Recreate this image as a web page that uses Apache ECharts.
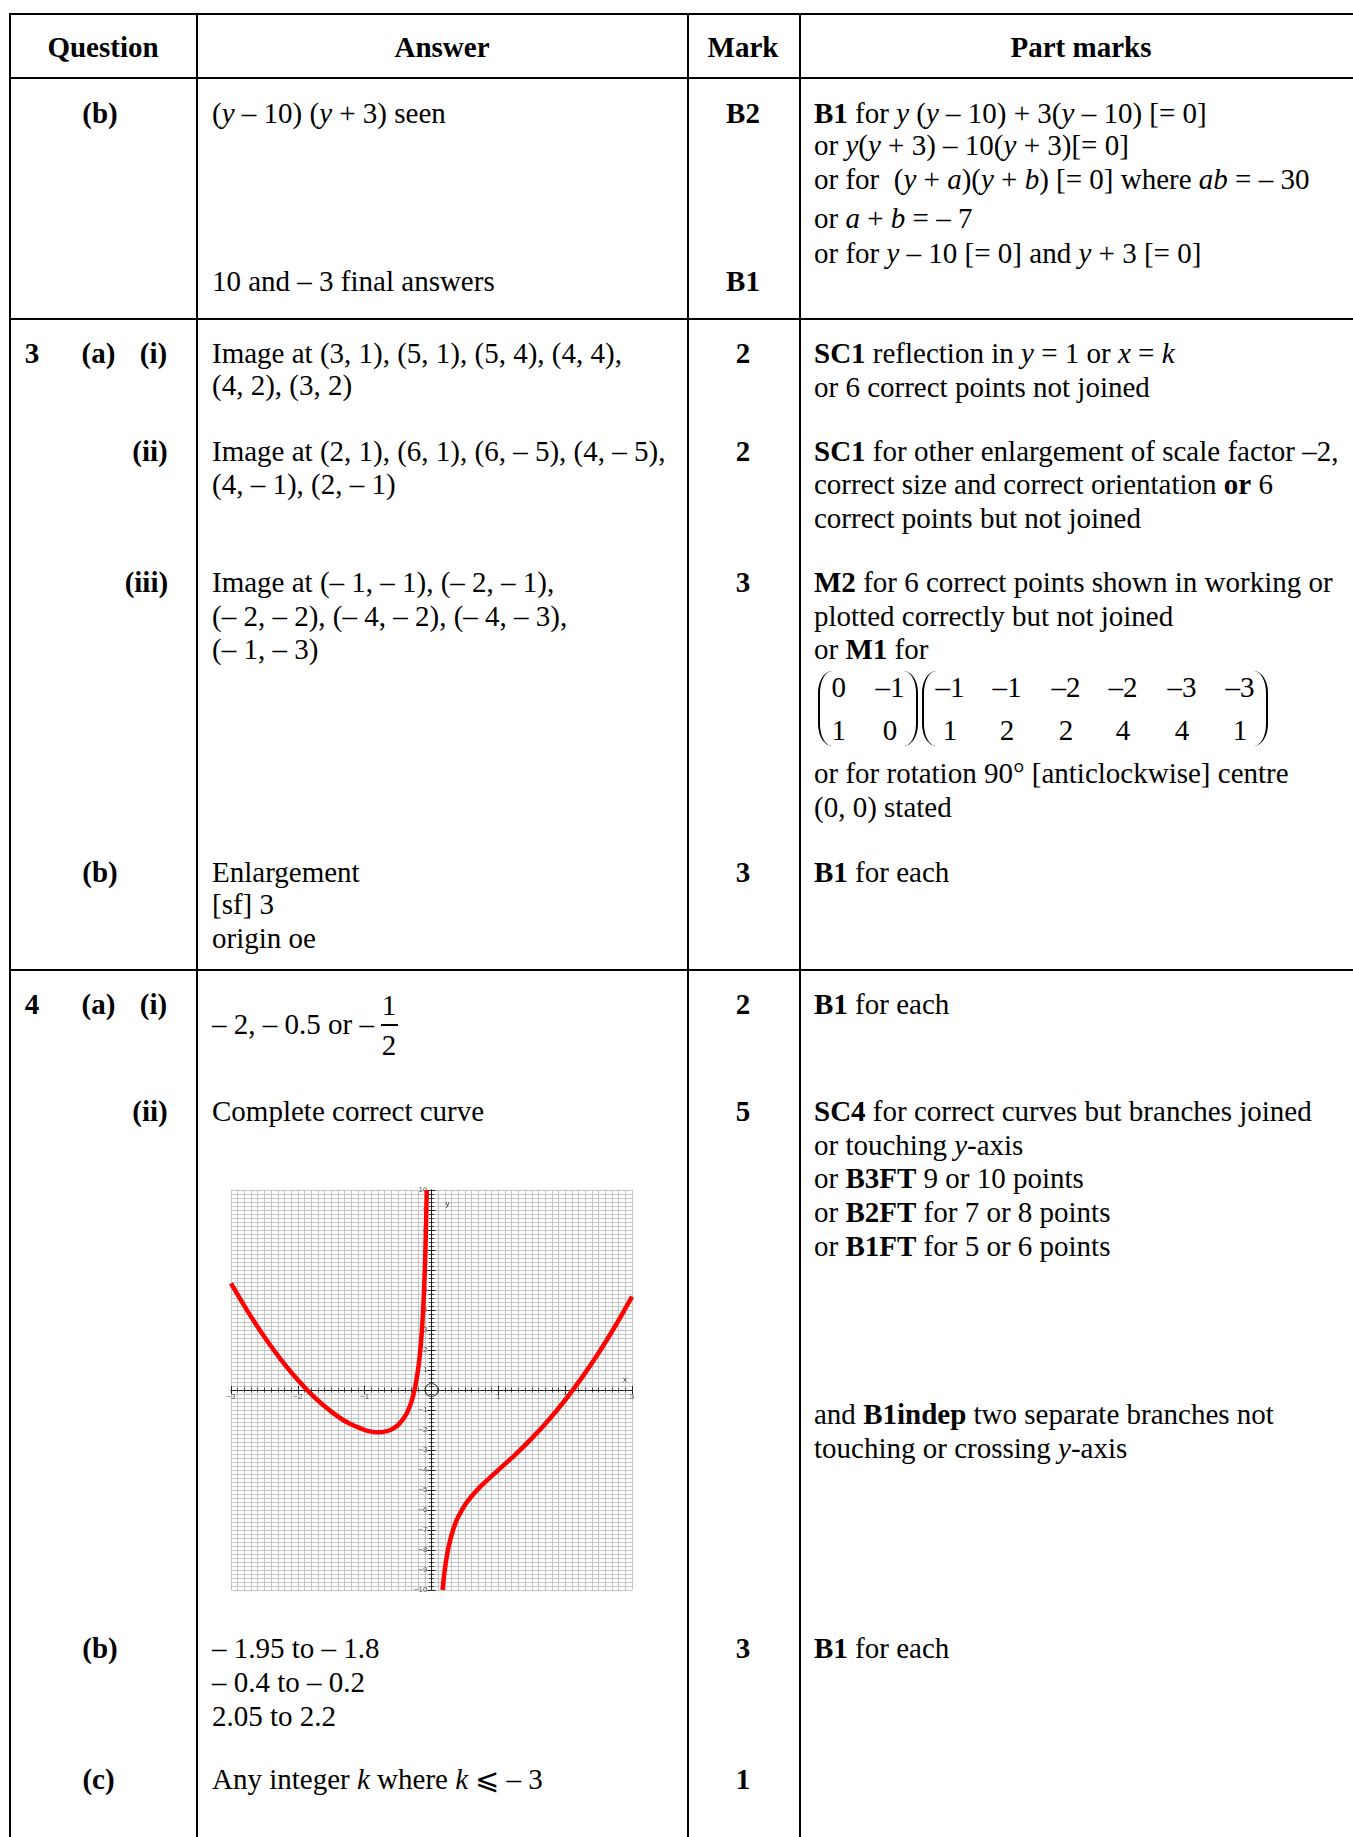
<!DOCTYPE html>
<html>

<head>
    <meta charset="UTF-8">
    <script src="https://cdn.jsdelivr.net/npm/echarts@6.0.0/dist/echarts.min.js"></script>
    <style>
        html, body { margin: 0; padding: 0; background: #fff; }
        body { position: relative; width: 1353px; height: 1837px; overflow: hidden; }
        .t { position: absolute; font-family: 'Liberation Serif', 'Times New Roman', serif; font-size: 29px;
             line-height: 34px; white-space: nowrap; color: #000; }
        .c { transform: translateX(-50%); }
        .hl { position: absolute; height: 2px; background: #000; }
        .vl { position: absolute; width: 2px; background: #000; }
        .pl { position: absolute; width: 12px; border-left: 2px solid #000; border-radius: 14px 0 0 14px / 22px 0 0 22px; }
        .pr { position: absolute; width: 12px; border-right: 2px solid #000; border-radius: 0 14px 14px 0 / 0 22px 22px 0; }
    </style>
</head>

<body>
    <div id="main" style="position: absolute; left: 205px; top: 1170px; width: 450px; height: 440px;"></div>
    <script>
        // curve, two branches either side of the y-axis
        var leftBranch = [
            [-3, 5.33], [-2.75, 3.93], [-2.5, 2.65], [-2.25, 1.51], [-2, 0.5], [-1.75, -0.37],
            [-1.5, -1.08], [-1.25, -1.64], [-1, -2], [-0.9, -2.08], [-0.8, -2.11], [-0.7, -2.08],
            [-0.6, -1.97], [-0.5, -1.75], [-0.4, -1.34], [-0.35, -1.02], [-0.3, -0.58], [-0.25, 0.06],
            [-0.2, 1.04], [-0.18, 1.59], [-0.16, 2.28], [-0.14, 3.16], [-0.12, 4.35], [-0.11, 5.1],
            [-0.1, 6.01], [-0.09, 7.12], [-0.08, 8.51], [-0.075, 9.34], [-0.0714, 10]
        ];
        var rightBranch = [
            [0.166, -10], [0.18, -9.52], [0.2, -8.96], [0.225, -8.39], [0.25, -7.94], [0.3, -7.24],
            [0.35, -6.73], [0.4, -6.34], [0.5, -5.75], [0.6, -5.31], [0.75, -4.77], [1, -4],
            [1.25, -3.24], [1.5, -2.42], [1.75, -1.51], [2, -0.5], [2.25, 0.62], [2.5, 1.85],
            [2.75, 3.2], [3, 4.67]
        ];
        var origin = [[0, 0]];
        var xRange = [-3, 3];
        var yRange = [-10, 10];
        var xTickLabels = [-3, -2, -1, 1, 2, 3];
        var yTickLabels = [-10, -9, -8, -7, -6, -5, -4, -3, -2, -1, 1, 2, 3, 4, 5, 6, 7, 8, 9, 10];

        // table text: [x, lineCentreY, html, centred]
        var B = function (s) { return '<b>' + s + '</b>'; };
        var I = function (s) { return '<i>' + s + '</i>'; };
        var texts = [
            [103, 47, B('Question'), 1], [442, 47, B('Answer'), 1], [743, 47, B('Mark'), 1], [1081, 47, B('Part marks'), 1],

            [100, 112.5, B('(b)'), 1],
            [212, 112.5, '(' + I('y') + ' – 10) (' + I('y') + ' + 3) seen'],
            [743, 112.5, B('B2'), 1],
            [814, 112.5, B('B1') + ' for ' + I('y') + ' (' + I('y') + ' – 10) + 3(' + I('y') + ' – 10) [= 0]'],
            [814, 145.3, 'or ' + I('y') + '(' + I('y') + ' + 3) – 10(' + I('y') + ' + 3)[= 0]'],
            [814, 179.2, 'or for &nbsp;(' + I('y') + ' + ' + I('a') + ')(' + I('y') + ' + ' + I('b') + ') [= 0] where ' + I('ab') + ' = – 30'],
            [814, 217.9, 'or ' + I('a') + ' + ' + I('b') + ' = – 7'],
            [814, 253, 'or for ' + I('y') + ' – 10 [= 0] and ' + I('y') + ' + 3 [= 0]'],
            [212, 281, '10 and – 3 final answers'],
            [743, 281, B('B1'), 1],

            [32, 352.6, B('3'), 1], [98.5, 352.6, B('(a)'), 1], [153.5, 352.6, B('(i)'), 1],
            [212, 352.6, 'Image at (3, 1), (5, 1), (5, 4), (4, 4),'],
            [212, 385.4, '(4, 2), (3, 2)'],
            [743, 352.6, B('2'), 1],
            [814, 352.6, B('SC1') + ' reflection in ' + I('y') + ' = 1 or ' + I('x') + ' = ' + I('k')],
            [814, 386.6, 'or 6 correct points not joined'],

            [150, 451, B('(ii)'), 1],
            [212, 451, 'Image at (2, 1), (6, 1), (6, – 5), (4, – 5),'],
            [212, 483.8, '(4, – 1), (2, – 1)'],
            [743, 451, B('2'), 1],
            [814, 451, B('SC1') + ' for other enlargement of scale factor –2,'],
            [814, 484, 'correct size and correct orientation ' + B('or') + ' 6'],
            [814, 518, 'correct points but not joined'],

            [146.4, 582.2, B('(iii)'), 1],
            [212, 582.2, 'Image at (– 1, – 1), (– 2, – 1),'],
            [212, 616.2, '(– 2, – 2), (– 4, – 2), (– 4, – 3),'],
            [212, 649, '(– 1, – 3)'],
            [743, 582.2, B('3'), 1],
            [814, 582.2, B('M2') + ' for 6 correct points shown in working or'],
            [814, 616.2, 'plotted correctly but not joined'],
            [814, 649, 'or ' + B('M1') + ' for'],
            [838.7, 686.5, '0', 1], [890, 686.5, '–1', 1], [838.7, 729.8, '1', 1], [890, 729.8, '0', 1],
            [950, 686.5, '–1', 1], [1007, 686.5, '–1', 1], [1066, 686.5, '–2', 1], [1123, 686.5, '–2', 1], [1182, 686.5, '–3', 1], [1240, 686.5, '–3', 1],
            [950, 729.8, '1', 1], [1007, 729.8, '2', 1], [1066, 729.8, '2', 1], [1123, 729.8, '4', 1], [1182, 729.8, '4', 1], [1240, 729.8, '1', 1],
            [814, 773.1, 'or for rotation 90° [anticlockwise] centre'],
            [814, 807.1, '(0, 0) stated'],

            [100, 871.5, B('(b)'), 1],
            [212, 871.5, 'Enlargement'],
            [212, 904.3, '[sf] 3'],
            [212, 938.3, 'origin oe'],
            [743, 871.5, B('3'), 1],
            [814, 871.5, B('B1') + ' for each'],

            [32, 1004, B('4'), 1], [98.5, 1004, B('(a)'), 1], [153.5, 1004, B('(i)'), 1],
            [212, 1024, '– 2, – 0.5 or –'],
            [389, 1005, '1', 1], [389, 1045, '2', 1],
            [743, 1004, B('2'), 1],
            [814, 1004, B('B1') + ' for each'],

            [150, 1110.5, B('(ii)'), 1],
            [212, 1110.5, 'Complete correct curve'],
            [743, 1110.5, B('5'), 1],
            [814, 1110.5, B('SC4') + ' for correct curves but branches joined'],
            [814, 1144.5, 'or touching ' + I('y') + '-axis'],
            [814, 1178.4, 'or ' + B('B3FT') + ' 9 or 10 points'],
            [814, 1212.4, 'or ' + B('B2FT') + ' for 7 or 8 points'],
            [814, 1246.4, 'or ' + B('B1FT') + ' for 5 or 6 points'],
            [814, 1414, 'and ' + B('B1indep') + ' two separate branches not'],
            [814, 1448, 'touching or crossing ' + I('y') + '-axis'],

            [100, 1648, B('(b)'), 1],
            [212, 1648, '– 1.95 to – 1.8'],
            [212, 1682, '– 0.4 to – 0.2'],
            [212, 1716, '2.05 to 2.2'],
            [743, 1648, B('3'), 1],
            [814, 1648, B('B1') + ' for each'],

            [98.5, 1779.4, B('(c)'), 1],
            [212, 1779.4, 'Any integer ' + I('k') + ' where ' + I('k') + ' ⩽ – 3'],
            [743, 1779.4, B('1'), 1]
        ];

        function addDiv(cls, css, html) {
            var d = document.createElement('div');
            d.className = cls;
            d.style.cssText = css;
            if (html) d.innerHTML = html;
            document.body.appendChild(d);
        }

        texts.forEach(function (t) {
            addDiv('t' + (t[3] ? ' c' : ''), 'left:' + t[0] + 'px;top:' + (t[1] - 17) + 'px;', t[2]);
        });

        // table rules
        [13, 77, 318, 969].forEach(function (y) { addDiv('hl', 'left:9px;width:1344px;top:' + y + 'px;'); });
        [9, 196, 687, 799].forEach(function (x) { addDiv('vl', 'left:' + x + 'px;top:13px;height:1824px;'); });
        // fraction bar and matrix brackets
        addDiv('hl', 'left:381px;width:17px;top:1024px;height:1.5px;');
        addDiv('pl', 'left:818px;top:671px;height:75px;');
        addDiv('pr', 'left:904px;top:671px;height:75px;');
        addDiv('pl', 'left:922px;top:671px;height:75px;');
        addDiv('pr', 'left:1254px;top:671px;height:75px;');

        var myChart = echarts.init(document.getElementById('main'));
        var gridColor = '#c4c4c4';
        var inkColor = '#222';

        function signed(v) {
            return v < 0 ? '\u2212' + (-v) : String(v);
        }

        function makeAxis(range, position, minorSplit, main, extra) {
            var a = {
                type: 'value',
                min: range[0],
                max: range[1],
                interval: 1,
                position: position,
                axisLine: { onZero: true, onZeroAxisIndex: 0, lineStyle: { color: inkColor, width: 1 } },
                axisTick: { show: true, length: 4, lineStyle: { color: inkColor, width: 1 } },
                minorTick: { show: true, splitNumber: minorSplit, length: 2.5, lineStyle: { color: inkColor, width: 0.8 } },
                splitLine: { show: main, lineStyle: { color: gridColor, width: 1 } },
                minorSplitLine: { show: main, lineStyle: { color: gridColor, width: 1 } },
                axisLabel: { show: false }
            };
            return Object.assign(a, extra || {});
        }

        var labelStyle = { fontSize: 8, color: '#333', fontFamily: 'Liberation Sans' };

        var option = {
            animation: false,
            grid: { left: 26, top: 20, width: 401, height: 400 },
            xAxis: [
                makeAxis(xRange, 'bottom', 10, true, {
                    name: 'x', nameLocation: 'end', nameGap: -9,
                    nameTextStyle: Object.assign({ verticalAlign: 'bottom', padding: [0, 0, 6, 0] }, labelStyle)
                }),
                makeAxis(xRange, 'top', 10, false)
            ],
            yAxis: [
                makeAxis(yRange, 'left', 5, true, {
                    name: 'y', nameLocation: 'end', nameGap: -10,
                    nameTextStyle: Object.assign({ align: 'left', verticalAlign: 'top', padding: [0, 0, 0, 14] }, labelStyle)
                }),
                makeAxis(yRange, 'right', 5, false)
            ],
            series: [
                {
                    type: 'line', data: leftBranch, xAxisIndex: 0, yAxisIndex: 0, showSymbol: false,
                    smooth: 0.3, lineStyle: { color: '#ff0000', width: 4.5 }, z: 5
                },
                {
                    type: 'line', data: rightBranch, xAxisIndex: 0, yAxisIndex: 0, showSymbol: false,
                    smooth: 0.3, lineStyle: { color: '#ff0000', width: 4.5 }, z: 5
                },
                {
                    type: 'scatter', data: origin, symbol: 'circle', symbolSize: 13,
                    itemStyle: { color: 'rgba(0,0,0,0)', borderColor: inkColor, borderWidth: 1.2 }, z: 6
                },
                {
                    // tick labels along the x-axis
                    type: 'scatter', symbolSize: 0, silent: true, z: 3,
                    data: xTickLabels.map(function (v) { return [v, 0]; }),
                    label: Object.assign({
                        show: true, position: 'bottom', distance: 3,
                        formatter: function (p) { return signed(p.value[0]); }
                    }, labelStyle)
                },
                {
                    // tick labels along the y-axis
                    type: 'scatter', symbolSize: 0, silent: true, z: 3,
                    data: yTickLabels.map(function (v) { return [0, v]; }),
                    label: Object.assign({
                        show: true, position: 'left', distance: 4,
                        formatter: function (p) { return signed(p.value[1]); }
                    }, labelStyle)
                }
            ]
        };

        option && myChart.setOption(option);
    </script>
</body>

</html>
